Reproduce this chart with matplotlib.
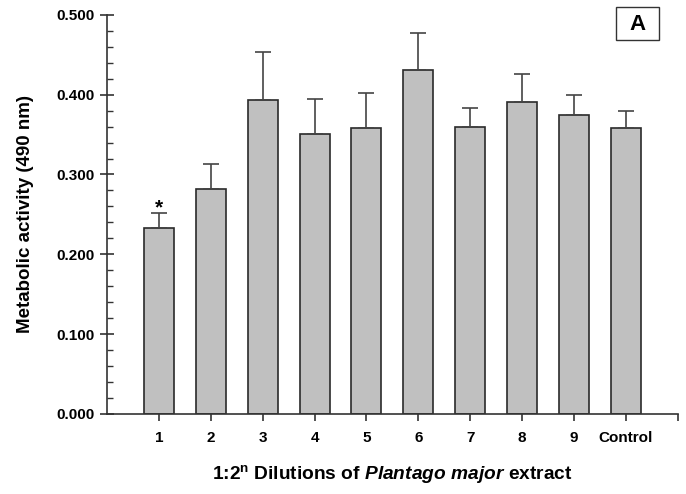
import matplotlib
matplotlib.use("Agg")
import matplotlib.pyplot as plt
from matplotlib.patches import Rectangle

plt.rcParams['font.family'] = ['Liberation Sans', 'DejaVu Sans']
plt.rcParams['mathtext.fontset'] = 'custom'
plt.rcParams['mathtext.rm'] = 'Liberation Sans:bold'
plt.rcParams['mathtext.it'] = 'Liberation Sans:italic:bold'
plt.rcParams['mathtext.bf'] = 'Liberation Sans:bold'

labels = ['1', '2', '3', '4', '5', '6', '7', '8', '9', 'Control']
activity = [0.233, 0.282, 0.393, 0.351, 0.358, 0.431, 0.360, 0.391, 0.375, 0.358]
errors = [0.019, 0.031, 0.061, 0.044, 0.044, 0.046, 0.023, 0.035, 0.025, 0.021]
significant = [True, False, False, False, False, False, False, False, False, False]

fig = plt.figure(figsize=(6.86, 4.94), dpi=100)
ax = fig.add_axes([0.156, 0.162, 0.832, 0.808])

pos = list(range(1, len(labels) + 1))
ax.bar(pos, activity, width=0.58, color='#c0c0c0', edgecolor='#2a2a2a', linewidth=1.2,
       yerr=[[0] * len(errors), errors],
       error_kw=dict(ecolor='#444444', elinewidth=1.2, capsize=6, capthick=1.2))

for p, v, e, s in zip(pos, activity, errors, significant):
    if s:
        ax.text(p, v + e - 0.006, '*', ha='center', va='bottom', fontsize=15, fontweight='bold')

ax.set_xlim(0, 11)
ax.set_ylim(0, 0.5)
ax.set_xticks(pos + [11])
ax.set_xticklabels(labels + [''])
ax.set_yticks([0, 0.1, 0.2, 0.3, 0.4, 0.5])
ax.set_yticklabels(['0.000', '0.100', '0.200', '0.300', '0.400', '0.500'])
ax.set_yticks([i * 0.02 for i in range(26)], minor=True)

for sp in ['top', 'right']:
    ax.spines[sp].set_visible(False)
for sp in ['left', 'bottom']:
    ax.spines[sp].set_color('#333333')
    ax.spines[sp].set_linewidth(1.2)

ax.tick_params(axis='y', which='major', direction='inout', length=10, width=1.2, color='#333333', pad=4)
ax.tick_params(axis='y', which='minor', direction='in', length=4, width=1.0, color='#333333')
ax.tick_params(axis='x', which='major', direction='out', length=5, width=1.2, color='#333333', pad=7)
for t in ax.get_xticklabels() + ax.get_yticklabels():
    t.set_fontweight('bold')
    t.set_fontsize(11)

ax.set_ylabel('Metabolic activity (490 nm)', fontsize=13.5, fontweight='bold', labelpad=16)
ax.set_xlabel(r'1:2$^{\rm n}$ Dilutions of $\it Plantago\ major$ extract', fontsize=13.8,
              fontweight='bold', labelpad=13)

# panel letter box
fig.patches.append(Rectangle((616 / 686, 1 - 40 / 494), 43 / 686, 33 / 494, transform=fig.transFigure,
                             facecolor='white', edgecolor='#333333', linewidth=1))
fig.text(637.5 / 686, 1 - 24 / 494, 'A', ha='center', va='center', fontsize=16, fontweight='bold')

fig.savefig('out.png', dpi=100)
